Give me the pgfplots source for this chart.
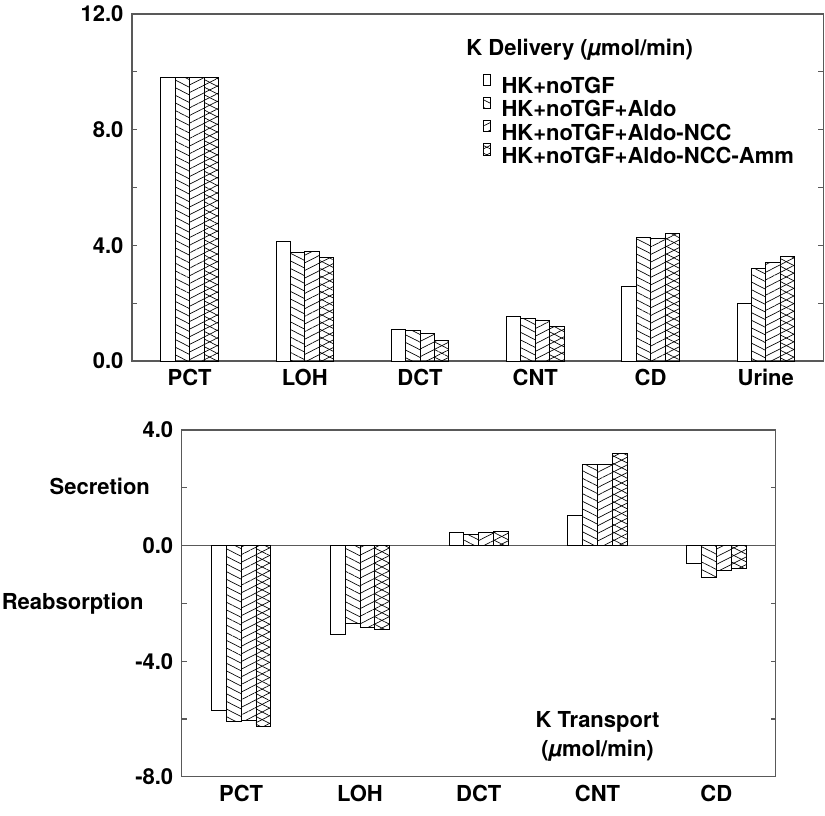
\documentclass[border=0pt]{standalone}
\usepackage{fontspec}
\setmainfont{TeX Gyre Heros}
\usepackage{pgfplots}
\pgfplotsset{compat=1.18}
\usetikzlibrary{patterns.meta}
\newcommand\ff{\fontsize{16.5}{20}\selectfont\bfseries}
\tikzset{
 pa/.style={pattern={Lines[angle=-27,distance=5.1pt,line width=0.5pt]}},
 pb/.style={pattern={Lines[angle=27,distance=5.1pt,line width=0.5pt]}},
 pc/.style={pattern={Lines[angle=27,distance=5.1pt,line width=0.5pt]},
   postaction={pattern={Lines[angle=-27,distance=5.1pt,line width=0.5pt]}}},
}
\pgfplotsset{
 bb/.style={ybar, bar width=0.125, draw=black, line width=0.6pt, fill=white,
   legend image code/.code={\draw[##1,line width=0.5pt] (0pt,0.3pt) rectangle (4.8pt,8.8pt);}},
 common/.style={scale only axis, clip=false,
   tick align=inside, ytick pos=both,
   x tick style={draw=none},
   major tick length=3.75pt,
   axis line style={black!65, line width=0.9pt},
   y tick style={black!65, line width=0.9pt},
   ticklabel style={font=\ff},
   yticklabel style={inner xsep=6.2pt},
   xticklabel style={yshift=-2.5pt},
 },
}
\begin{document}
\begin{tikzpicture}
\path[use as bounding box] (-99pt,-340.5pt) rectangle (519.75pt,270.75pt);
\begin{axis}[common,
 at={(0pt,0pt)}, anchor=south west,
 width=518.5pt, height=260.3pt,
 xmin=-0.5, xmax=5.5, ymin=0, ymax=12,
 xtick={0,1,2,3,4,5}, xticklabels={PCT,LOH,DCT,CNT,CD,Urine},
 ytick={0,2,4,6,8,10,12}, yticklabels={0.0,,4.0,,8.0,,12.0},
 legend style={at={(axis cs:2.545,9.94)}, anchor=north west, draw=none, fill=none,
   font=\ff, inner sep=0pt, row sep=0pt,
   nodes={inner ysep=2.3pt, text height=12pt, text depth=0pt},
   /tikz/every odd column/.append style={column sep=6.5pt}},
 legend cell align=left,
]
\addplot[bb, bar shift=-0.1875] coordinates {(0,9.80) (1,4.13) (2,1.08) (3,1.55) (4,2.57) (5,1.98)};
\addplot[bb, pa, bar shift=-0.0625] coordinates {(0,9.80) (1,3.76) (2,1.05) (3,1.46) (4,4.28) (5,3.21)};
\addplot[bb, pb, bar shift=0.0625] coordinates {(0,9.80) (1,3.79) (2,0.96) (3,1.42) (4,4.23) (5,3.40)};
\addplot[bb, pc, bar shift=0.1875] coordinates {(0,9.80) (1,3.59) (2,0.71) (3,1.21) (4,4.42) (5,3.63)};
\legend{HK+noTGF, HK+noTGF+Aldo, HK+noTGF+Aldo-NCC, HK+noTGF+Aldo-NCC-Amm}
\node[anchor=west, inner sep=0pt, font=\ff] at (axis cs:2.40,10.75) {K Delivery (\textit{µ}mol/min)};
\end{axis}
\begin{axis}[common,
 at={(37.3pt,-311.8pt)}, anchor=south west,
 width=445.5pt, height=260pt,
 xmin=-0.5, xmax=4.5, ymin=-8, ymax=4,
 xtick={0,1,2,3,4}, xticklabels={PCT,LOH,DCT,CNT,CD},
 ytick={-8,-6,-4,-2,0,2,4}, yticklabels={-8.0,,-4.0,,0.0,,4.0},
 extra y ticks={0}, extra y tick labels={},
 extra y tick style={grid=major, major grid style={black!65, line width=0.9pt}},
]
\addplot[bb, bar shift=-0.1875] coordinates {(0,-5.71) (1,-3.06) (2,0.46) (3,1.04) (4,-0.60)};
\addplot[bb, pa, bar shift=-0.0625] coordinates {(0,-6.08) (1,-2.70) (2,0.39) (3,2.82) (4,-1.11)};
\addplot[bb, pb, bar shift=0.0625] coordinates {(0,-6.06) (1,-2.84) (2,0.45) (3,2.82) (4,-0.87)};
\addplot[bb, pc, bar shift=0.1875] coordinates {(0,-6.25) (1,-2.89) (2,0.49) (3,3.19) (4,-0.80)};
\node[anchor=base, inner sep=0pt, font=\ff] at (axis cs:-1.19,1.78) {Secretion};
\node[anchor=base, inner sep=0pt, font=\ff] at (axis cs:-1.418,-2.22) {Reabsorption};
\node[anchor=base, inner sep=0pt, font=\ff] at (axis cs:3.0,-6.3) {K Transport};
\node[anchor=base, inner sep=0pt, font=\ff] at (axis cs:3.0,-7.3) {(\textit{µ}mol/min)};
\end{axis}
\end{tikzpicture}
\end{document}
